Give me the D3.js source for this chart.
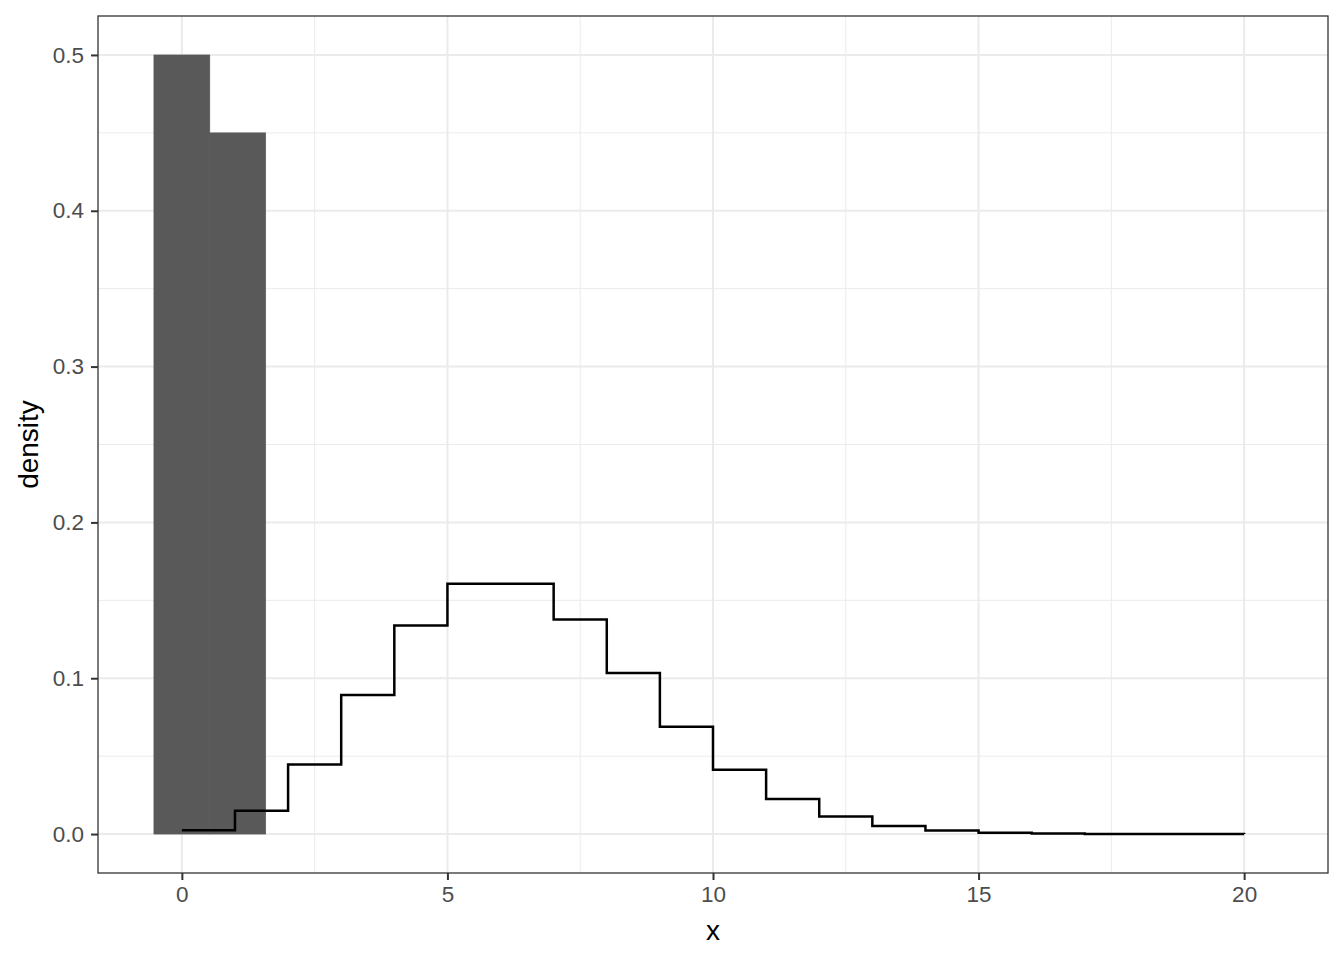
<!DOCTYPE html>
<html>
<head>
<meta charset="utf-8">
<script src="https://cdn.jsdelivr.net/npm/d3@7"></script>
<style>
  body { margin: 0; background: #fff; }
  svg { font-family: "Liberation Sans", Arial, sans-serif; }
</style>
</head>
<body>
<svg id="chart" width="1344" height="960"></svg>
<script>
// histogram bins (left edge, right edge, density)
const binStart = [-0.5263, 0.5263];
const binEnd = [0.5263, 1.5789];
const binDensity = [0.5, 0.45];

// step line: x values and densities
const stepX = [0, 1, 2, 3, 4, 5, 6, 7, 8, 9, 10, 11, 12, 13, 14, 15, 16, 17, 18, 19, 20];
const stepY = [0.0025, 0.0149, 0.0446, 0.0892, 0.1339, 0.1606, 0.1606, 0.1377, 0.1033, 0.0688,
  0.0413, 0.0225, 0.0113, 0.0052, 0.0022, 0.0009, 0.0003, 0.0001, 0.00004, 0.00001, 0.000003];

const xTicks = [0, 5, 10, 15, 20];
const xMinor = [2.5, 7.5, 12.5, 17.5];
const yTicks = [0, 0.1, 0.2, 0.3, 0.4, 0.5];
const yMinor = [0.05, 0.15, 0.25, 0.35, 0.45];

const margin = { left: 98, right: 16, top: 16, bottom: 87 };
const W = 1344, H = 960;
const svg = d3.select('#chart');

const x = d3.scaleLinear().domain([-1.5789, 21.5789]).range([margin.left, W - margin.right]);
const y = d3.scaleLinear().domain([-0.025, 0.525]).range([H - margin.bottom, margin.top]);

const panel = svg.append('g');
panel.append('rect')
  .attr('x', margin.left).attr('y', margin.top)
  .attr('width', W - margin.left - margin.right)
  .attr('height', H - margin.top - margin.bottom)
  .attr('fill', '#fff');

// grid
const grid = panel.append('g');
grid.selectAll('.xminor').data(xMinor).join('line')
  .attr('x1', d => x(d)).attr('x2', d => x(d))
  .attr('y1', margin.top).attr('y2', H - margin.bottom)
  .attr('stroke', '#EBEBEB').attr('stroke-width', 1);
grid.selectAll('.yminor').data(yMinor).join('line')
  .attr('y1', d => y(d)).attr('y2', d => y(d))
  .attr('x1', margin.left).attr('x2', W - margin.right)
  .attr('stroke', '#EBEBEB').attr('stroke-width', 1);
grid.selectAll('.xmajor').data(xTicks).join('line')
  .attr('x1', d => x(d)).attr('x2', d => x(d))
  .attr('y1', margin.top).attr('y2', H - margin.bottom)
  .attr('stroke', '#EBEBEB').attr('stroke-width', 2);
grid.selectAll('.ymajor').data(yTicks).join('line')
  .attr('y1', d => y(d)).attr('y2', d => y(d))
  .attr('x1', margin.left).attr('x2', W - margin.right)
  .attr('stroke', '#EBEBEB').attr('stroke-width', 2);

// bars
const bins = binStart.map((s, i) => ({ x0: s, x1: binEnd[i], d: binDensity[i] }));
panel.selectAll('.bar').data(bins).join('rect')
  .attr('x', d => x(d.x0))
  .attr('width', d => x(d.x1) - x(d.x0))
  .attr('y', d => y(d.d))
  .attr('height', d => y(0) - y(d.d))
  .attr('fill', '#595959')
  .attr('stroke', '#595959')
  .attr('stroke-width', 0.6);

// step line
const pts = stepX.map((v, i) => [v, stepY[i]]);
const line = d3.line().x(d => x(d[0])).y(d => y(d[1])).curve(d3.curveStepAfter);
panel.append('path')
  .attr('d', line(pts))
  .attr('fill', 'none')
  .attr('stroke', '#000')
  .attr('stroke-width', 2.5);

// border
panel.append('rect')
  .attr('x', margin.left).attr('y', margin.top)
  .attr('width', W - margin.left - margin.right)
  .attr('height', H - margin.top - margin.bottom)
  .attr('fill', 'none').attr('stroke', '#333333').attr('stroke-width', 1.3);

// axes
const xAxis = svg.append('g')
  .attr('transform', `translate(0,${H - margin.bottom})`)
  .call(d3.axisBottom(x).tickValues(xTicks).tickSize(7).tickPadding(6).tickFormat(d3.format('d')));
const yAxis = svg.append('g')
  .attr('transform', `translate(${margin.left},0)`)
  .call(d3.axisLeft(y).tickValues(yTicks).tickSize(7).tickPadding(7).tickFormat(d3.format('.1f')));
[xAxis, yAxis].forEach(a => {
  a.attr('font-size', null).attr('font-family', null);
  a.select('.domain').remove();
  a.selectAll('.tick line').attr('stroke', '#333333').attr('stroke-width', 2);
  a.selectAll('.tick text').attr('fill', '#4D4D4D').attr('font-size', 22.5);
});

svg.append('text')
  .attr('x', (margin.left + W - margin.right) / 2).attr('y', 940)
  .attr('text-anchor', 'middle').attr('font-size', 28).attr('fill', '#000')
  .text('x');
svg.append('text')
  .attr('transform', `translate(38,${(margin.top + H - margin.bottom) / 2}) rotate(-90)`)
  .attr('text-anchor', 'middle').attr('font-size', 28).attr('fill', '#000')
  .text('density');
</script>
</body>
</html>
